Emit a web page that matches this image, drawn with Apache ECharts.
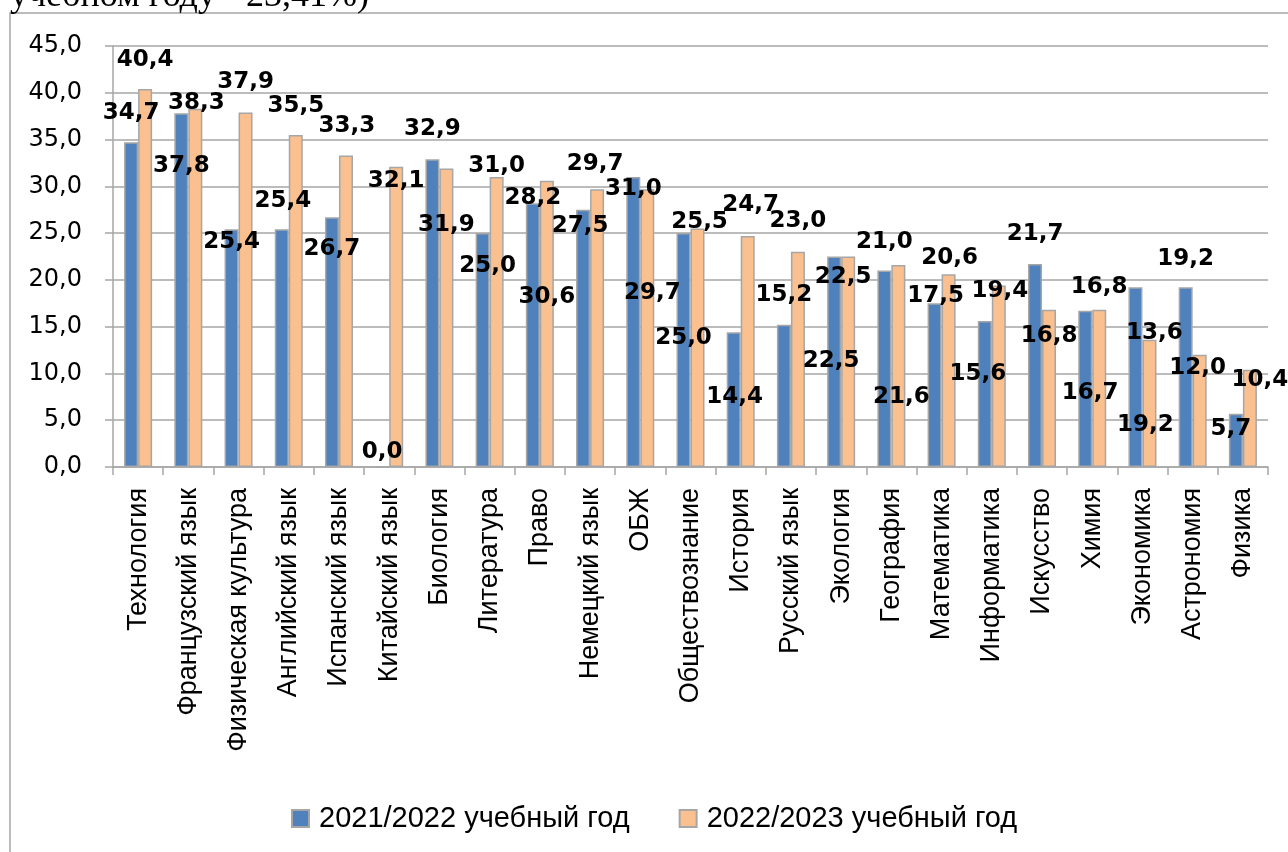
<!DOCTYPE html>
<html>
<head>
<meta charset="utf-8">
<script src="https://cdn.jsdelivr.net/npm/echarts@6/dist/echarts.min.js"></script>
<style>
html,body{margin:0;padding:0;background:#fff;}
#chart{width:1288px;height:852px;}
</style>
</head>
<body>
<div id="chart"></div>
<script>
// ---- data ----
var categories = ["Технология","Французский язык","Физическая культура","Английский язык","Испанский язык","Китайский язык","Биология","Литература","Право","Немецкий язык","ОБЖ","Обществознание","История","Русский язык","Экология","География","Математика","Информатика","Искусство","Химия","Экономика","Астрономия","Физика"];
var series2122 = [34.7,37.8,25.4,25.4,26.7,0.0,32.9,25.0,28.2,27.5,31.0,25.0,14.4,15.2,22.5,21.0,17.5,15.6,21.7,16.7,19.2,19.2,5.7];
var series2223 = [40.4,38.3,37.9,35.5,33.3,32.1,31.9,31.0,30.6,29.7,29.7,25.5,24.7,23.0,22.5,21.6,20.6,19.4,16.8,16.8,13.6,12.0,10.4];
var seriesNames = ["2021/2022 учебный год","2022/2023 учебный год"];
var yTicks = [0,5,10,15,20,25,30,35,40,45];
var headerText = "учебном году - 23,41%)";

// ---- layout: data label offsets (px) relative to bar top, as placed in the original ----
var labelOffsets2122 = [[0,-18],[0,64],[0,24],[1,-17],[0,43],[0,-3],[0,-19],[5,44],[0,6],[-3,28],[0,24],[0,116],[1,76],[0,-18],[-3,116],[0,-17],[1,4],[-7,64],[0,-18],[5,94],[10,149],[0,-17],[-5,27]];
var labelOffsets2223 = [[0,-18],[1,6],[0,-19],[0,-17],[1,-18],[0,26],[0,68],[0,1],[0,128],[-2,-14],[5,115],[2,5],[3,-19],[0,-19],[-5,32],[3,144],[1,-5],[1,17],[0,38],[0,-11],[5,5],[-2,25],[10,22]];

var fmt = function (v) { return Number(v).toFixed(1).replace('.', ','); };

function buildData(vals, offs) {
  return vals.map(function (v, i) {
    return { value: v, label: { offset: offs[i] } };
  });
}

var chart = echarts.init(document.getElementById('chart'), null, {renderer: 'canvas'});
var gridColor = '#a6a6a6';
var labelStyle = {
  show: true,
  position: 'top',
  distance: 0,
  color: '#000',
  fontFamily: 'DejaVu Sans',
  fontWeight: 'bold',
  fontSize: 23,
  formatter: function (p) { return fmt(p.value); }
};

chart.setOption({
  animation: false,
  backgroundColor: '#fff',
  graphic: [
    { type: 'rect', z: 0, silent: true,
      shape: { x: 10, y: 13, width: 1400, height: 1000 },
      style: { fill: 'none', stroke: '#a6a6a6', lineWidth: 1.5 } },
    { type: 'text', left: 10, top: -21, z: 10, silent: true,
      style: { text: headerText, font: '36px "Liberation Serif"', fill: '#000' } }
  ],
  grid: { left: 113, right: 20, top: 46, bottom: 385, containLabel: false },
  legend: {
    data: seriesNames,
    left: 286,
    top: 799,
    itemWidth: 17,
    itemHeight: 17,
    itemGap: 49,
    icon: 'rect',
    textStyle: { fontFamily: 'Liberation Sans', fontSize: 29, color: '#000', padding: [0, 0, 0, 5] }
  },
  xAxis: {
    type: 'category',
    data: categories,
    boundaryGap: true,
    axisLine: { show: true, lineStyle: { color: gridColor, width: 1.5 } },
    axisTick: { show: true, length: 8, alignWithLabel: false, lineStyle: { color: gridColor, width: 1.5 } },
    axisLabel: { interval: 0, rotate: 90, margin: 21, color: '#000', fontFamily: 'Liberation Sans', fontSize: 27 },
    splitLine: { show: false }
  },
  yAxis: {
    type: 'value',
    min: yTicks[0],
    max: yTicks[yTicks.length - 1],
    interval: yTicks[1] - yTicks[0],
    axisLine: { show: true, lineStyle: { color: gridColor, width: 1.5 } },
    axisTick: { show: true, length: 8, lineStyle: { color: gridColor, width: 1.5 } },
    axisLabel: { margin: 31, color: '#000', fontFamily: 'DejaVu Sans', fontSize: 24, formatter: fmt },
    splitLine: { show: true, lineStyle: { color: gridColor, width: 1.5 } }
  },
  series: [
    {
      name: seriesNames[0], type: 'bar', barWidth: 14, barGap: '0%',
      itemStyle: { color: '#4f81bd', borderColor: '#a6a6a6', borderWidth: 1.5 },
      label: labelStyle,
      data: buildData(series2122, labelOffsets2122)
    },
    {
      name: seriesNames[1], type: 'bar', barWidth: 14,
      itemStyle: { color: '#fac08f', borderColor: '#a6a6a6', borderWidth: 1.5 },
      label: labelStyle,
      data: buildData(series2223, labelOffsets2223)
    }
  ]
});
</script>
</body>
</html>
